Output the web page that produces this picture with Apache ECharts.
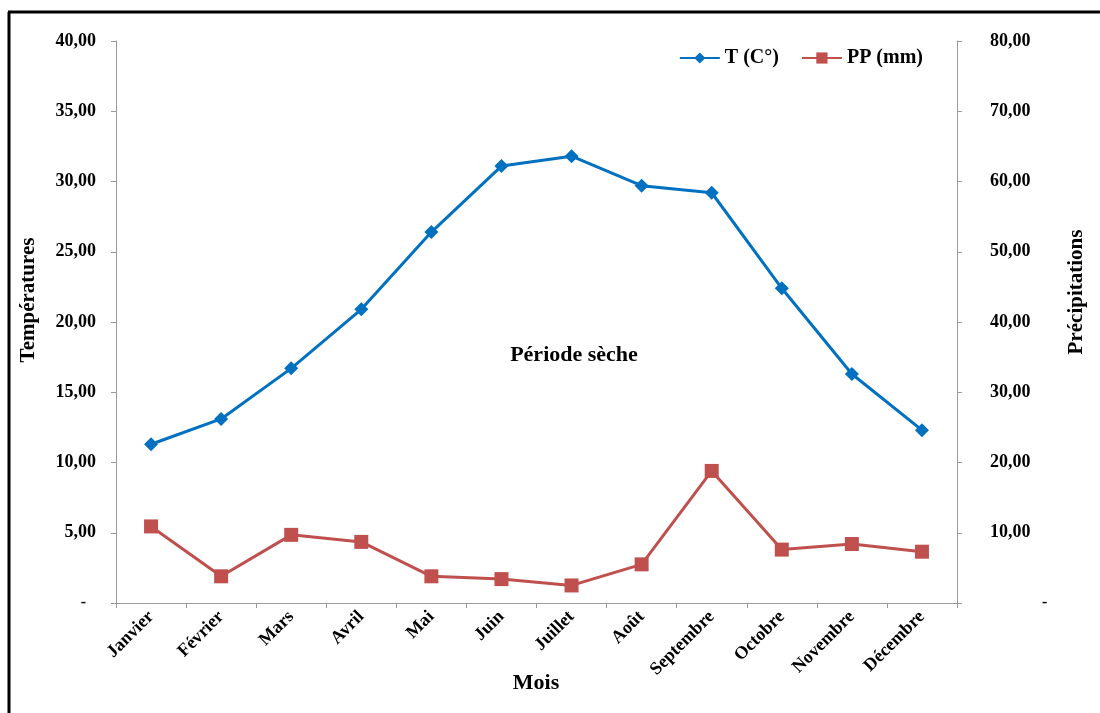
<!DOCTYPE html>
<html>
<head>
<meta charset="utf-8">
<script src="https://cdn.jsdelivr.net/npm/echarts@6/dist/echarts.min.js"></script>
<style>
html,body{margin:0;padding:0;background:#fff;}
#c{width:1100px;height:713px;}
</style>
</head>
<body>
<div id="c"></div>
<script>
const months = ['Janvier','Février','Mars','Avril','Mai','Juin','Juillet','Août','Septembre','Octobre','Novembre','Décembre'];
const temperature = [11.3, 13.1, 16.7, 20.9, 26.4, 31.1, 31.8, 29.7, 29.2, 22.4, 16.3, 12.3];
const precipitation = [10.9, 3.8, 9.7, 8.7, 3.8, 3.4, 2.5, 5.5, 18.8, 7.6, 8.4, 7.3];
const seriesNames = ['T (C°)', 'PP (mm)'];
const axisNames = {x:'Mois', left:'Températures', right:'Précipitations'};
const annotation = 'Période sèche';

const FONT = '"Liberation Serif", "Times New Roman", serif';
const chart = echarts.init(document.getElementById('c'));
function fmt(v){ return v.toFixed(2).replace('.', ','); }
const axisLine = {show:true, lineStyle:{color:'#9a9a9a', width:1}};
const tick = {show:true, inside:false, length:5, lineStyle:{color:'#9a9a9a'}};
const titleStyle = {fontFamily:FONT, fontWeight:'bold', fontSize:21, fill:'#000'};
chart.setOption({
  backgroundColor:'#fff',
  animation:false,
  textStyle:{fontFamily:FONT},
  legend:{
    data:seriesNames, right:172, top:43, itemWidth:40, itemHeight:14, itemGap:22,
    textStyle:{fontFamily:FONT, fontWeight:'bold', fontSize:20, color:'#000'}
  },
  grid:{left:116, right:143, top:41, bottom:110, containLabel:false},
  xAxis:{
    type:'category', data:months, boundaryGap:true,
    axisLine:axisLine, axisTick:Object.assign({}, tick, {alignWithLabel:false}),
    axisLabel:{rotate:45, interval:0, margin:11, fontFamily:FONT, fontWeight:'bold', fontSize:18, color:'#000'},
    splitLine:{show:false}
  },
  yAxis:[{
    type:'value', min:0, max:40, interval:5, position:'left',
    axisLine:axisLine, axisTick:tick, splitLine:{show:false},
    axisLabel:{margin:20, fontFamily:FONT, fontWeight:'bold', fontSize:18, color:'#000',
      formatter:v => v === 0 ? '{z|-}' : fmt(v),
      rich:{z:{fontFamily:FONT, fontSize:16, color:'#000', padding:[0,10,0,0]}}}
  },{
    type:'value', min:0, max:80, interval:10, position:'right',
    axisLine:axisLine, axisTick:tick, splitLine:{show:false},
    axisLabel:{margin:33, fontFamily:FONT, fontWeight:'bold', fontSize:18, color:'#000',
      formatter:v => v === 0 ? '{z|-}' : fmt(v),
      rich:{z:{fontFamily:FONT, fontSize:16, color:'#000', padding:[0,0,0,52]}}}
  }],
  graphic:[
    {type:'line', shape:{x1:9, y1:12, x2:9, y2:713}, style:{stroke:'#000', lineWidth:3}},
    {type:'line', shape:{x1:8, y1:12, x2:1100, y2:12}, style:{stroke:'#000', lineWidth:3}},
    {type:'text', x:29, y:300, rotation:Math.PI/2,
      style:Object.assign({text:axisNames.left, textAlign:'center', textVerticalAlign:'middle'}, titleStyle)},
    {type:'text', x:1077, y:292, rotation:Math.PI/2,
      style:Object.assign({text:axisNames.right, textAlign:'center', textVerticalAlign:'middle'}, titleStyle)},
    {type:'text', x:536, y:683,
      style:{text:axisNames.x, textAlign:'center', textVerticalAlign:'middle', fontFamily:FONT, fontWeight:'bold', fontSize:22, fill:'#000'}},
    {type:'text', x:574, y:355,
      style:{text:annotation, textAlign:'center', textVerticalAlign:'middle', fontFamily:FONT, fontWeight:'bold', fontSize:22, fill:'#000'}}
  ],
  series:[{
    name:seriesNames[0], type:'line', yAxisIndex:0, data:temperature,
    symbol:'diamond', symbolSize:14, itemStyle:{color:'#0070C0'},
    lineStyle:{color:'#0070C0', width:3}
  },{
    name:seriesNames[1], type:'line', yAxisIndex:1, data:precipitation,
    symbol:'rect', symbolSize:14, itemStyle:{color:'#C0504D'},
    lineStyle:{color:'#C0504D', width:3}
  }]
});
</script>
</body>
</html>
